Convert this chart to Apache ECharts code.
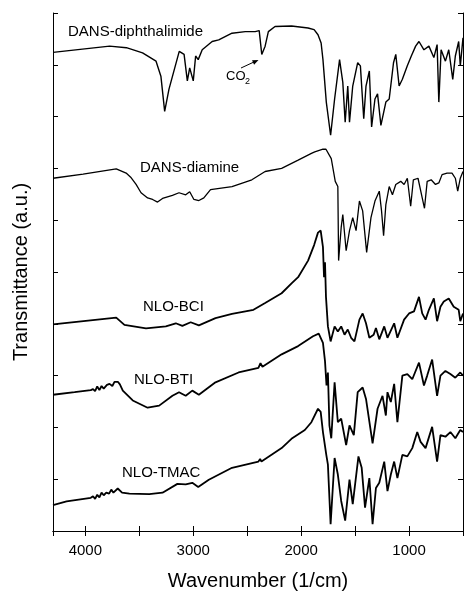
<!DOCTYPE html>
<html><head><meta charset="utf-8">
<script src="https://cdn.jsdelivr.net/npm/echarts@6/dist/echarts.min.js"></script>
<style>html,body{margin:0;padding:0;background:#fff}#c{width:466px;height:596px}</style>
</head><body><div id="c"></div>
<script>
// wavenumber (1/cm), transmittance (a.u., offset)
const diphthalimide = [[4300,9.24],[3775,9.36],[3620,9.33],[3470,9.23],[3345,9.07],[3300,8.78],[3265,8.10],[3225,8.53],[3130,9.26],[3085,9.20],[3055,8.69],[3033,8.94],[3000,8.69],[2978,9.17],[2954,9.10],[2917,9.29],[2825,9.45],[2764,9.48],[2641,9.61],[2518,9.64],[2426,9.64],[2389,9.66],[2365,9.20],[2334,9.36],[2304,9.64],[2242,9.74],[2089,9.75],[1936,9.71],[1880,9.68],[1844,9.58],[1815,9.42],[1798,9.10],[1767,8.28],[1727,7.64],[1690,8.34],[1644,9.10],[1614,8.66],[1592,7.89],[1568,8.59],[1552,7.89],[1522,8.59],[1476,9.04],[1451,8.98],[1420,7.96],[1399,8.59],[1368,8.88],[1347,7.80],[1316,8.34],[1292,8.44],[1261,7.83],[1215,8.28],[1184,8.34],[1144,9.04],[1123,9.20],[1092,8.59],[1062,8.72],[1016,8.98],[979,9.17],[939,9.36],[908,9.45],[862,9.29],[816,9.36],[770,9.14],[740,9.39],[724,8.28],[703,9.29],[663,9.07],[632,9.29],[595,8.72],[571,9.17],[540,9.45],[525,8.98],[500,9.52]];
const diamine = [[4300,6.81],[4021,6.89],[3714,6.99],[3622,6.91],[3580,6.83],[3530,6.69],[3484,6.53],[3423,6.43],[3377,6.40],[3331,6.35],[3285,6.42],[3193,6.48],[3132,6.53],[3070,6.49],[3033,6.55],[2994,6.40],[2948,6.38],[2902,6.43],[2840,6.59],[2641,6.65],[2457,6.78],[2334,6.94],[2181,7.00],[2028,7.16],[1905,7.29],[1874,7.32],[1798,7.37],[1770,7.37],[1752,7.35],[1721,7.19],[1684,6.75],[1660,6.65],[1653,5.22],[1629,5.86],[1614,6.11],[1583,5.41],[1552,5.80],[1522,6.05],[1491,5.80],[1460,6.37],[1430,6.18],[1393,5.38],[1353,6.05],[1316,6.37],[1276,6.56],[1255,6.18],[1236,5.70],[1215,6.30],[1184,6.65],[1154,6.49],[1123,6.69],[1077,6.75],[1046,6.69],[1016,6.81],[985,6.27],[960,6.78],[917,6.81],[878,6.43],[857,6.23],[832,6.75],[795,6.78],[755,6.69],[724,6.72],[694,6.88],[648,6.91],[602,6.91],[571,6.81],[549,6.56],[525,6.81],[500,6.94]];
const nloBCI = [[4300,3.99],[3714,4.12],[3638,3.98],[3438,3.91],[3254,3.95],[3162,4.01],[3101,3.96],[3024,4.03],[2948,3.97],[2794,4.11],[2641,4.19],[2442,4.27],[2334,4.40],[2181,4.59],[2089,4.78],[2028,4.90],[1936,5.22],[1880,5.52],[1844,5.76],[1819,5.80],[1798,5.48],[1788,4.90],[1779,5.19],[1770,4.52],[1752,3.95],[1727,3.66],[1690,3.95],[1660,3.85],[1629,3.95],[1598,3.79],[1568,3.89],[1537,3.73],[1506,3.66],[1460,4.08],[1430,4.20],[1399,4.01],[1368,3.73],[1328,3.79],[1307,3.92],[1276,3.70],[1230,3.95],[1200,3.73],[1138,4.01],[1108,3.73],[1046,4.08],[1000,4.20],[954,4.24],[908,4.52],[878,4.20],[847,4.08],[816,4.27],[770,4.49],[740,4.05],[709,4.33],[678,4.43],[632,4.49],[586,4.33],[540,4.27],[525,4.05],[500,4.20]];
const nloBTI = [[4300,2.63],[4100,2.68],[3950,2.72],[3929,2.74],[3910,2.70],[3890,2.79],[3870,2.72],[3850,2.80],[3830,2.75],[3800,2.82],[3776,2.84],[3750,2.80],[3730,2.88],[3699,2.88],[3680,2.83],[3653,2.71],[3561,2.52],[3423,2.38],[3316,2.42],[3193,2.61],[3132,2.68],[3070,2.61],[3009,2.71],[2948,2.63],[2794,2.87],[2580,3.06],[2396,3.15],[2377,3.24],[2359,3.17],[2181,3.41],[2028,3.57],[1890,3.76],[1837,3.81],[1798,3.63],[1779,3.28],[1765,2.81],[1752,3.06],[1738,2.04],[1721,1.79],[1690,2.87],[1660,2.10],[1629,2.17],[1583,1.66],[1552,2.04],[1512,1.85],[1476,2.68],[1430,2.77],[1399,2.55],[1338,1.69],[1292,2.36],[1246,2.61],[1215,2.23],[1200,2.68],[1169,2.49],[1138,2.84],[1108,2.10],[1062,3.00],[1016,3.03],[970,2.93],[908,3.25],[862,2.81],[832,3.00],[786,3.31],[740,2.61],[709,3.00],[663,3.09],[617,3.03],[571,2.96],[525,3.06],[500,3.00]];
const nloTMAC = [[4300,0.50],[4174,0.57],[3950,0.64],[3929,0.67],[3910,0.62],[3890,0.70],[3870,0.65],[3850,0.74],[3830,0.69],[3806,0.74],[3780,0.72],[3760,0.80],[3740,0.74],[3700,0.82],[3684,0.80],[3660,0.74],[3592,0.72],[3408,0.71],[3285,0.74],[3147,0.91],[3070,0.90],[3009,0.93],[2954,0.85],[2856,0.99],[2641,1.22],[2396,1.34],[2380,1.39],[2368,1.34],[2181,1.60],[2090,1.78],[1966,1.95],[1905,2.10],[1844,2.36],[1819,2.30],[1798,1.91],[1767,1.47],[1752,1.28],[1727,0.13],[1690,1.41],[1660,1.09],[1629,0.58],[1592,0.20],[1552,0.99],[1522,0.52],[1469,1.44],[1439,1.22],[1408,0.45],[1368,1.02],[1338,0.13],[1307,0.83],[1276,0.93],[1230,1.34],[1200,0.77],[1169,1.09],[1138,1.34],[1108,1.02],[1062,1.47],[1016,1.44],[970,1.60],[924,1.91],[893,1.72],[847,1.60],[786,2.01],[740,1.34],[709,1.85],[663,1.82],[617,1.91],[571,1.79],[525,1.95],[500,1.91]];
const xLabelValues = [4000, 3000, 2000, 1000];
const traceNames = ['DANS-diphthalimide','DANS-diamine','NLO-BCI','NLO-BTI','NLO-TMAC'];

const FONT = '"Liberation Sans", Arial, Helvetica, sans-serif';
const chart = echarts.init(document.getElementById('c'), null, {renderer:'canvas'});
const axisLine = {show:true, lineStyle:{color:'#000', width:1}};
const tick = {show:true, inside:true, length:5, lineStyle:{color:'#000', width:1}};
const xBase = {type:'value', min:500, max:4300, interval:500, inverse:true, axisLine, axisTick:tick, splitLine:{show:false}};
const yBase = {type:'value', min:0, max:10, interval:1, axisLine, axisTick:tick, splitLine:{show:false}, axisLabel:{show:false}};
function mk(name, data, w){
  return {name, type:'line', data, showSymbol:false, symbol:'none', animation:false,
    lineStyle:{color:'#000', width:w}, z:3};
}
function lbl(text, left, top){
  return {type:'text', left, top, z:10, style:{text, font:'15px '+FONT, fill:'#000'}};
}
chart.setOption({
  backgroundColor:'#fff',
  animation:false,
  grid:{left:53, right:1, top:13, bottom:59},
  xAxis:[
    Object.assign({}, xBase, {position:'bottom',
      name:'Wavenumber (1/cm)', nameLocation:'middle', nameGap:40,
      nameTextStyle:{fontSize:20, fontFamily:FONT, color:'#000'},
      axisLabel:{show:true, margin:12, fontSize:15, fontFamily:FONT, color:'#000',
        formatter:v => xLabelValues.indexOf(v) >= 0 ? String(v) : ''}}),
    Object.assign({}, xBase, {position:'top', axisLabel:{show:false}})
  ],
  yAxis:[
    Object.assign({}, yBase, {position:'left',
      name:'Transmittance (a.u.)', nameLocation:'middle', nameGap:22, nameRotate:90,
      nameTextStyle:{fontSize:20, fontFamily:FONT, color:'#000'}}),
    Object.assign({}, yBase, {position:'right'})
  ],
  series:[
    mk(traceNames[0], diphthalimide, 1.4),
    mk(traceNames[1], diamine, 1.3),
    mk(traceNames[2], nloBCI, 1.8),
    mk(traceNames[3], nloBTI, 1.8),
    mk(traceNames[4], nloTMAC, 1.8)
  ],
  graphic:[
    lbl(traceNames[0], 68, 24),
    lbl(traceNames[1], 140, 160),
    lbl(traceNames[2], 143, 299),
    lbl(traceNames[3], 134, 372),
    lbl(traceNames[4], 122, 465),
    {type:'text', left:226, top:70, z:10, style:{text:'CO', font:'13px '+FONT, fill:'#000'}},
    {type:'text', left:245, top:77, z:10, style:{text:'2', font:'9px '+FONT, fill:'#000'}},
    {type:'line', z:10, shape:{x1:241, y1:68, x2:255, y2:61.5}, style:{stroke:'#000', lineWidth:1}},
    {type:'polygon', z:10, shape:{points:[[258.5,60],[254.1,64.8],[252.0,60.3]]}, style:{fill:'#000'}}
  ]
});
</script></body></html>
